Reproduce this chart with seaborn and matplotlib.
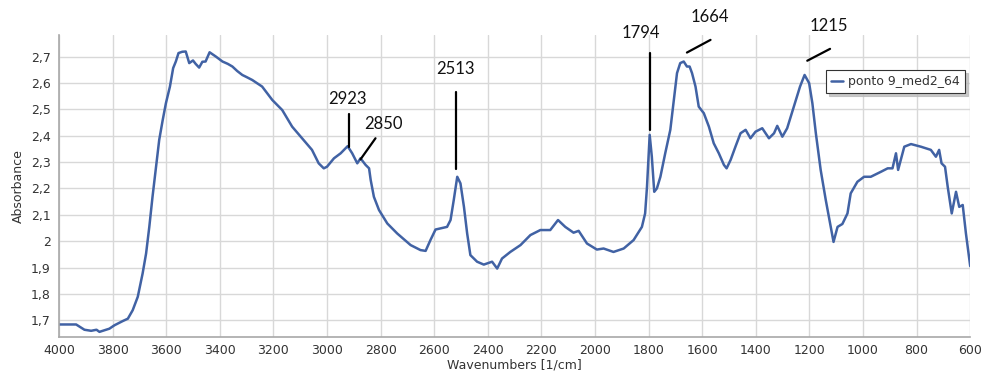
import numpy as np
import pandas as pd
import matplotlib
matplotlib.use("Agg")
import matplotlib.pyplot as plt
from matplotlib.ticker import MultipleLocator, FuncFormatter
import seaborn as sns

# ---- data ----
wavenumber = [4000, 3936, 3905, 3880, 3860, 3849, 3830, 3812, 3793, 3762, 3743, 3725, 3706, 3688,
              3675, 3663, 3651, 3638, 3626, 3613, 3601, 3586, 3574, 3564, 3554, 3540, 3527, 3514,
              3500, 3490, 3477, 3465, 3453, 3438, 3415, 3390, 3370, 3353, 3335, 3316, 3300, 3279,
              3260, 3242, 3204, 3167, 3130, 3093, 3056, 3031, 3012, 3000, 2974, 2949, 2923, 2906,
              2887, 2875, 2856, 2843, 2837, 2825, 2806, 2775, 2738, 2688, 2651, 2632, 2614, 2595,
              2552, 2539, 2527, 2514, 2502, 2489, 2477, 2465, 2440, 2415, 2384, 2365, 2347, 2316,
              2278, 2241, 2204, 2167, 2138, 2111, 2080, 2061, 2030, 1993, 1968, 1931, 1893, 1856,
              1825, 1813, 1806, 1796, 1788, 1779, 1769, 1756, 1738, 1719, 1706, 1694, 1682, 1669,
              1657, 1647, 1638, 1625, 1613, 1594, 1575, 1557, 1538, 1519, 1509, 1494, 1476, 1457,
              1438, 1420, 1401, 1376, 1351, 1332, 1320, 1301, 1283, 1258, 1235, 1218, 1201, 1189,
              1176, 1158, 1139, 1123, 1110, 1095, 1077, 1058, 1046, 1021, 996, 971, 933, 908, 890,
              877, 869, 846, 821, 784, 747, 728, 716, 707, 694, 684, 669, 653, 641, 628, 616, 600]
absorbance = [1.684, 1.684, 1.664, 1.660, 1.664, 1.656, 1.662, 1.668, 1.681, 1.697, 1.706, 1.738,
              1.789, 1.877, 1.953, 2.054, 2.168, 2.282, 2.384, 2.459, 2.523, 2.586, 2.656, 2.681,
              2.713, 2.718, 2.719, 2.675, 2.685, 2.672, 2.658, 2.680, 2.681, 2.716, 2.700, 2.681,
              2.672, 2.662, 2.645, 2.630, 2.622, 2.611, 2.598, 2.586, 2.535, 2.497, 2.434, 2.390,
              2.346, 2.295, 2.276, 2.282, 2.314, 2.333, 2.360, 2.333, 2.295, 2.314, 2.289, 2.276,
              2.232, 2.168, 2.118, 2.067, 2.029, 1.985, 1.966, 1.963, 2.004, 2.044, 2.054, 2.080,
              2.156, 2.244, 2.219, 2.130, 2.029, 1.947, 1.922, 1.911, 1.922, 1.896, 1.934, 1.959,
              1.985, 2.023, 2.042, 2.042, 2.080, 2.054, 2.032, 2.039, 1.991, 1.968, 1.972, 1.959,
              1.972, 2.004, 2.054, 2.105, 2.206, 2.403, 2.320, 2.187, 2.200, 2.244, 2.333, 2.422,
              2.535, 2.637, 2.675, 2.681, 2.662, 2.662, 2.637, 2.586, 2.510, 2.485, 2.434, 2.371,
              2.333, 2.289, 2.276, 2.308, 2.358, 2.409, 2.422, 2.390, 2.415, 2.428, 2.390, 2.409,
              2.437, 2.396, 2.428, 2.510, 2.586, 2.630, 2.599, 2.523, 2.409, 2.270, 2.156, 2.067,
              1.997, 2.054, 2.065, 2.105, 2.181, 2.225, 2.244, 2.244, 2.263, 2.276, 2.276, 2.333,
              2.270, 2.358, 2.368, 2.358, 2.346, 2.320, 2.346, 2.295, 2.282, 2.206, 2.105, 2.187,
              2.130, 2.137, 2.029, 1.905]
series_name = "ponto 9_med2_64"

peak_labels = ["2923", "2850", "2513", "1794", "1664", "1215"]
# label text position (x, y) and leader line (x0, y0, x1, y1) in data units
label_pos = [(2922, 2.539), (2791, 2.444), (2519, 2.653), (1828, 2.79), (1571, 2.851), (1127, 2.817)]
leader = [(2918, 2.481, 2918, 2.358), (2819, 2.390, 2875, 2.310), (2517, 2.565, 2517, 2.272),
          (1796, 2.713, 1796, 2.422), (1569, 2.763, 1657, 2.715), (1123, 2.729, 1208, 2.684)]

df = pd.DataFrame({"Wavenumber": wavenumber, "Absorbance": absorbance, "series": series_name})

sns.set_style("white")
plt.rcParams["font.family"] = ["DejaVu Sans"]

fig = plt.figure(figsize=(9.83, 3.71), dpi=100)
ax = fig.add_axes([0.060, 0.092, 0.927, 0.814])

sns.lineplot(data=df, x="Wavenumber", y="Absorbance", hue="series", palette=["#4162a4"],
             linewidth=1.8, sort=False, ax=ax, estimator=None)

ax.set_xlim(4000, 600)
ax.set_ylim(1.637, 2.782)
ax.xaxis.set_major_locator(MultipleLocator(200))
ax.xaxis.set_minor_locator(MultipleLocator(50))
ax.yaxis.set_major_locator(MultipleLocator(0.1))
ax.yaxis.set_minor_locator(MultipleLocator(0.02))
ax.yaxis.set_major_formatter(FuncFormatter(lambda v, p: f"{round(v, 2):g}".replace(".", ",")))
ax.xaxis.set_major_formatter(FuncFormatter(lambda v, p: f"{int(round(v))}"))

ax.grid(True, which="major", color="#d8d8d8", linewidth=1.0)
ax.set_axisbelow(True)
for s in ["top", "right"]:
    ax.spines[s].set_visible(False)
for s in ["left", "bottom"]:
    ax.spines[s].set_color("#a8a8a8")
    ax.spines[s].set_linewidth(1.2)

ax.tick_params(axis="x", which="both", direction="in", colors="#a8a8a8", labelcolor="#333333",
               labelsize=9, pad=5)
ax.tick_params(axis="x", which="major", length=4)
ax.tick_params(axis="x", which="minor", length=3)
ax.tick_params(axis="y", which="both", direction="out", colors="#a8a8a8", labelcolor="#333333",
               labelsize=9, pad=2)
ax.tick_params(axis="y", which="major", length=4)
ax.tick_params(axis="y", which="minor", length=2)

ax.set_xlabel("Wavenumbers [1/cm]", fontsize=9, color="#333333", labelpad=1)
ax.set_ylabel("Absorbance", fontsize=9, color="#333333", labelpad=4)

for lab, (tx, ty), (x0, y0, x1, y1) in zip(peak_labels, label_pos, leader):
    ax.plot([x0, x1], [y0, y1], color="black", linewidth=1.6, clip_on=False)
    ax.text(tx, ty, lab, ha="center", va="center", fontsize=12, family="Lato",
            color="#111111", clip_on=False)

leg = ax.legend(loc="upper right", bbox_to_anchor=(0.9945, 0.884), borderaxespad=0.0,
                fontsize=9, frameon=True, fancybox=False, shadow={"color": "#bbbbbb", "alpha": 0.8},
                handlelength=1.0, handletextpad=0.4, borderpad=0.4, title=None)
leg.get_frame().set_edgecolor("#333333")
leg.get_frame().set_linewidth(0.8)
for t in leg.get_texts():
    t.set_color("#333333")

fig.savefig("out.png", dpi=100)
